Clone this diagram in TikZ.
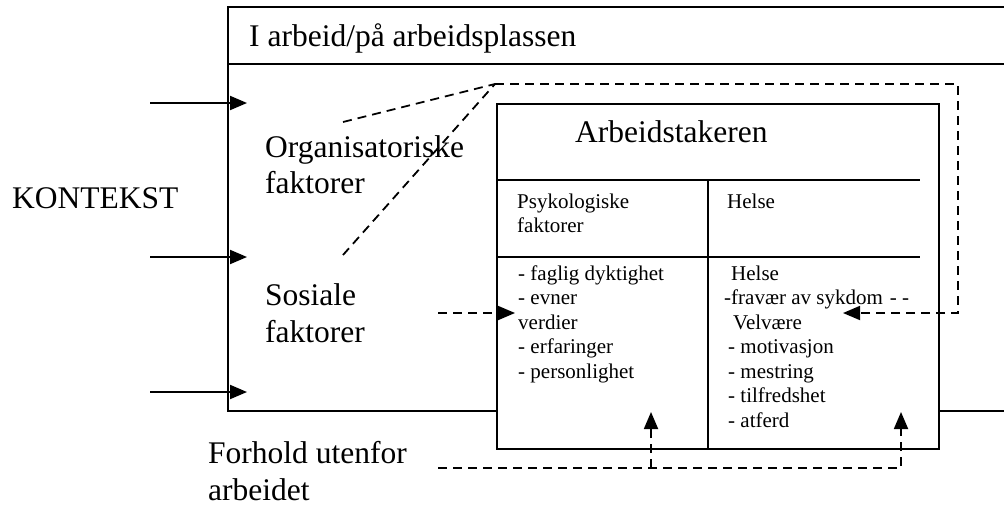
\documentclass[tikz,border=0pt]{standalone}
\usepackage{fontspec}
\setmainfont{Liberation Serif}
\usetikzlibrary{arrows.meta, positioning}

\tikzset{
	bigtext/.style={anchor=base west, inner sep=0pt, font=\fontsize{31.5}{36}\selectfont},
	smalltext/.style={anchor=base west, inner sep=0pt, font=\fontsize{21}{24.5}\selectfont},
	frame/.style={line width=1.9pt},
	dline/.style={line width=1.8pt, dash pattern=on 9pt off 6pt},
	tip/.style={-{Triangle[length=17pt,width=14pt]}}
}

\begin{document}
\begin{tikzpicture}[x=1pt, y=-1pt]
	\useasboundingbox (0,0) rectangle (1004,506);

	% arbeidsplassen
	\draw[frame] (1004,7) -- (228,7) -- (228,411) -- (497,411);
	\draw[frame] (228,64) -- (1004,64);
	\draw[frame] (939,411) -- (1004,411);
	\node[bigtext] (place) at (249,46) {I arbeid/på arbeidsplassen};

	% arbeidstakeren
	\draw[frame] (497,104) rectangle (939,449);
	\draw[frame] (497,180) -- (920,180);
	\draw[frame] (497,257) -- (920,257);
	\draw[frame] (708,180) -- (708,449);
	\node[bigtext] (worker) at (575,142) {Arbeidstakeren};

	\node[smalltext] (psy1) at (517,208) {Psykologiske};
	\node[smalltext] (psy2) at (517,232) {faktorer};
	\node[smalltext] (hel) at (727,208) {Helse};

	\node[smalltext] (p1) at (518,280) {- faglig dyktighet};
	\node[smalltext] (p2) at (518,304.5) {- evner};
	\node[smalltext] (p3) at (518,329) {verdier};
	\node[smalltext] (p4) at (518,353.5) {- erfaringer};
	\node[smalltext] (p5) at (518,378) {- personlighet};

	\node[smalltext] (h1) at (731,280) {Helse};
	\node[smalltext] (h2) at (724,304) {-fravær av sykdom\hspace{7pt}- -};
	\node[smalltext] (h3) at (733,329) {Velvære};
	\node[smalltext] (h4) at (728,353.5) {- motivasjon};
	\node[smalltext] (h5) at (728,378) {- mestring};
	\node[smalltext] (h6) at (728,402.5) {- tilfredshet};
	\node[smalltext] (h7) at (728,427) {- atferd};

	% faktorer
	\node[bigtext] (kontekst) at (12,208) {KONTEKST};
	\node[bigtext] (org1) at (265,157) {Organisatoriske};
	\node[bigtext] (org2) at (265,193) {faktorer};
	\node[bigtext] (sos1) at (265,305) {Sosiale};
	\node[bigtext] (sos2) at (265,342) {faktorer};
	\node[bigtext] (utf1) at (208,463) {Forhold utenfor};
	\node[bigtext] (utf2) at (208,500) {arbeidet};

	% piler fra kontekst
	\foreach \y [count=\i] in {103,257,392} {
		\coordinate (from\i) at (150,\y);
		\coordinate (to\i) at (247,\y);
		\draw[frame,tip] (from\i) -- (to\i);
	}

	% stiplede linjer
	\coordinate (corner) at (495,84);
	\coordinate (orgend) at (343,122);
	\coordinate (sosend) at (343,255);
	\coordinate (loopR) at (958,84);
	\coordinate (heltip) at (843,313);
	\draw[dline] (orgend) -- (corner);
	\draw[dline] (sosend) -- (corner);
	\draw[dline,tip] (corner) -- (loopR) |- (heltip);

	\coordinate (sosfrom) at (438,313);
	\coordinate (psytip) at (515,313);
	\draw[dline,tip] (sosfrom) -- (psytip);

	\coordinate (utffrom) at (438,468);
	\coordinate (psyup) at (651,412);
	\coordinate (helup) at (901,412);
	\draw[dline,tip] (utffrom) -| (helup);
	\draw[dline,tip] (psyup |- utffrom) -- (psyup);
\end{tikzpicture}
\end{document}
